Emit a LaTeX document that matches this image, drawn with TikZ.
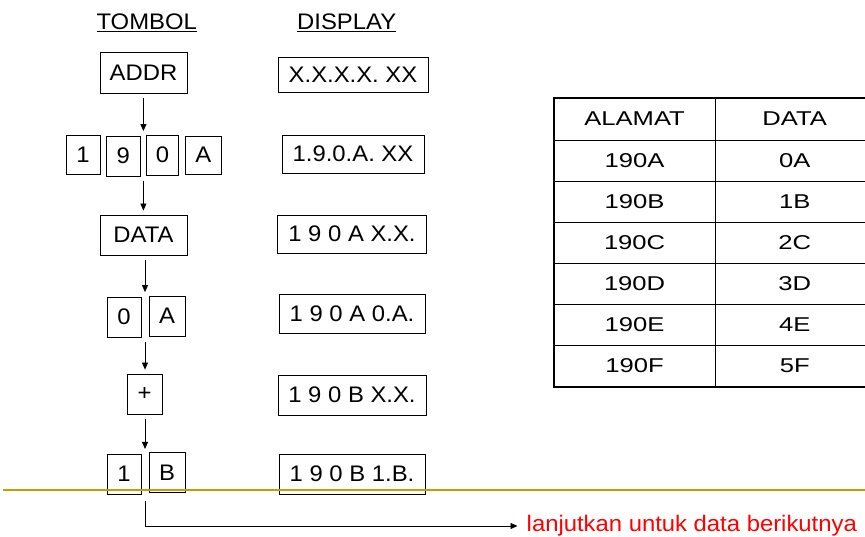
\documentclass[tikz,border=0pt]{standalone}
\usepackage{fontspec}
\setmainfont{Liberation Sans}
\newfontfamily\lfont[FakeStretch=1.06]{Liberation Sans}
\newfontfamily\tfont[FakeStretch=1.28]{Liberation Sans}
\usetikzlibrary{arrows.meta,calc}
\definecolor{gold}{HTML}{CC9900}
\definecolor{redtxt}{HTML}{FF0000}
\begin{document}
\begin{tikzpicture}[x=1pt,y=1pt,
  keybox/.style={draw=black, line width=0.8pt, inner sep=0pt, font=\lfont\fontsize{22.5}{27}\selectfont},
  sz/.style 2 args={minimum width=#1pt, minimum height=#2pt},
  head/.style={inner sep=0pt, font=\lfont\fontsize{22.5}{27}\selectfont},
  arr/.style={-{Triangle[length=7pt,width=6pt]}, line width=0.8pt, shorten <=5pt, shorten >=4pt},
  tcell/.style={inner sep=0pt, font=\tfont\fontsize{20}{24}\selectfont},
  tline/.style={line width=0.8pt},
  tborder/.style={line width=1.6pt},
  note/.style={inner sep=4.5pt, anchor=west, text=redtxt, font=\lfont\fontsize{22.5}{27}\selectfont},
  goldline/.style={draw=gold, line width=1.6pt}
]
\useasboundingbox[fill=white] (0,0) rectangle (865,-537);

% headers
\node[head] (hT) at (146.7,-23) {\underline{TOMBOL}};
\node[head] (hD) at (346.7,-23) {\underline{DISPLAY}};

% key column
\node[keybox, sz={87}{41}] (addr) at (143.5,-72.5) {ADDR};
\node[keybox, sz={34}{39}] (k1) at (83,-154.5) {1};
\node[keybox, sz={34}{40}] (k9) at (123.3,-156) {9};
\node[keybox, sz={32}{40}] (k0) at (162.5,-155) {0};
\node[keybox, sz={36}{38}] (kA) at (203.3,-155) {A};
\node[keybox, sz={87}{40}] (data) at (143.5,-235) {DATA};
\node[keybox, sz={34}{40}] (d0) at (124,-317) {0};
\node[keybox, sz={36}{40}] (dA) at (167,-316) {A};
\node[keybox, sz={35}{40}] (plus) at (144.5,-394) {+};
\node[keybox, sz={34}{40}] (e1) at (124,-474) {1};
\node[keybox, sz={36}{40}] (eB) at (167,-472.7) {B};

% display column
\node[keybox, sz={150}{35}] (s1) at (353,-75) {X.X.X.X. XX};
\node[keybox, sz={142}{38}] (s2) at (353,-154) {1.9.0.A. XX};
\node[keybox, sz={149}{38}] (s3) at (352,-234) {1 9 0 A X.X.};
\node[keybox, sz={146}{39}] (s4) at (352,-313.5) {1 9 0 A 0.A.};
\node[keybox, sz={148}{40}] (s5) at (352,-395) {1 9 0 B X.X.};
\node[keybox, sz={146}{40}] (s6) at (352,-474) {1 9 0 B 1.B.};

% arrows
\coordinate (c1) at ($(k9.north east)!0.5!(k0.north west)$);
\coordinate (c2) at ($(k9.south east)!0.5!(k0.south west)$);
\coordinate (c3) at ($(d0.north east)!0.5!(dA.north west)$);
\coordinate (c4) at ($(d0.south east)!0.5!(dA.south west)$);
\coordinate (c5) at ($(e1.north east)!0.5!(eB.north west)$);
\coordinate (c6) at ($(e1.south east)!0.5!(eB.south west)$);
\draw[arr] (addr.south -| c1) -- (c1);
\draw[arr] (c2) -- (data.north -| c2);
\draw[arr] (data.south -| c3) -- (c3);
\draw[arr] (c4) -- (plus.north -| c4);
\draw[arr] (plus.south -| c5) -- (c5);

\node[note] (next) at (522,-526) {lanjutkan untuk data berikutnya};
\draw[arr, shorten <=7pt, shorten >=4.5pt] (c6) |- (next.west);

% table
\foreach \y in {140,181.1,222.2,263.3,304.4,345.6} \draw[tline] (554,-\y) -- (880,-\y);
\draw[tline] (715,-98) -- (715,-386.7);
\draw[tborder] (554,-98) rectangle (875,-386.7);
\node[tcell] (t0a) at (634.6,-119) {ALAMAT};
\node[tcell] (t0b) at (794.7,-119) {DATA};
\foreach \i/\a/\b in {1/190A/0A,2/190B/1B,3/190C/2C,4/190D/3D,5/190E/4E,6/190F/5F}{
  \node[tcell] (ta\i) at (634.6,{-140-41.1*(\i-0.5)}) {\a};
  \node[tcell] (tb\i) at (794.7,{-140-41.1*(\i-0.5)}) {\b};
}

% gold line
\draw[goldline] (3,-490) -- (865,-490);
\end{tikzpicture}
\end{document}
